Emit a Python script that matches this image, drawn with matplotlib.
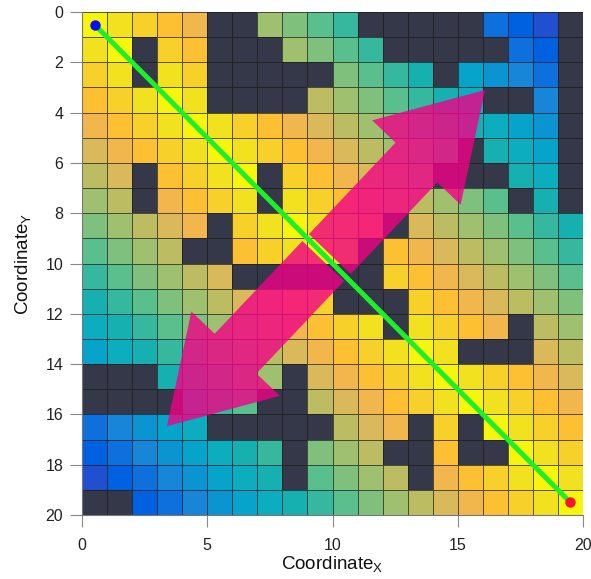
import numpy as np
import matplotlib
matplotlib.use("Agg")
import matplotlib.pyplot as plt
from matplotlib.colors import ListedColormap, BoundaryNorm
from matplotlib.patches import Polygon

plt.rcParams['font.family'] = ['Liberation Sans', 'DejaVu Sans']
plt.rcParams['mathtext.fontset'] = 'custom'
plt.rcParams['mathtext.rm'] = 'Liberation Sans'
plt.rcParams['mathtext.it'] = 'Liberation Sans'

X = -1  # obstacle
grid_values = [
    [0, 1, 2, 3, 4, X, X, 7, 8, 9, 10, X, X, X, X, X, 16, 17, 18, X],
    [1, 0, X, 2, 3, X, X, X, 7, 8, 9, 10, X, X, X, X, X, 16, 17, X],
    [2, 1, X, 1, 2, X, X, X, X, X, 8, 9, 10, 11, X, 13, 14, 15, 16, X],
    [3, 2, 1, 0, 1, X, X, X, X, 6, 7, 8, 9, 10, 11, 12, X, X, 15, X],
    [4, 3, 2, 1, 0, 1, 2, 3, 4, 5, 6, 7, 8, 9, 10, 11, 12, 13, 14, X],
    [5, 4, 3, 2, 1, 0, 1, 2, 3, 4, 5, 6, 7, 8, 9, X, 11, 12, 13, X],
    [6, 5, X, 3, 2, 1, 0, X, 2, 3, 4, 5, 6, 7, X, X, X, 11, 12, X],
    [7, 6, X, 4, 3, 2, 1, X, 1, 2, 3, 4, 5, 6, 7, 8, 9, X, 11, X],
    [8, 7, 6, 5, 4, X, 2, 1, 0, 1, 2, 3, X, 5, 6, 7, 8, 9, 10, 11],
    [9, 8, 7, 6, X, X, 3, 2, 1, 0, 1, X, 3, 4, 5, 6, 7, 8, 9, 10],
    [10, 9, 8, 7, 6, 5, X, X, X, X, X, X, 2, 3, 4, 5, 6, 7, 8, 9],
    [11, 10, 9, 8, 7, 6, 5, 4, 3, 2, X, X, X, 2, 3, 4, 5, 6, 7, 8],
    [12, 11, 10, 9, 8, 7, 6, 5, 4, 3, 2, 1, X, 1, 2, 3, 4, X, 6, 7],
    [13, 12, 11, 10, 9, 8, 7, 6, 5, 4, 3, 2, 1, 0, 1, X, X, X, 5, 6],
    [X, X, X, 11, 10, 9, 8, 7, X, 5, 4, 3, 2, 1, 0, 1, 2, 3, 4, 5],
    [X, X, X, X, 11, 10, 9, X, X, 6, 5, 4, 3, 2, 1, 0, 1, 2, 3, 4],
    [16, 15, 14, 13, 12, X, X, X, X, X, 6, 5, 4, X, 2, X, 0, 1, 2, 3],
    [17, 16, 15, 14, 13, 12, 11, 10, X, 8, 7, 6, X, X, 3, X, X, 0, 1, 2],
    [18, 17, 16, 15, 14, 13, 12, 11, X, 9, 8, 7, 6, X, 4, 3, 2, 1, 0, 1],
    [X, X, 17, 16, 15, 14, 13, 12, 11, 10, 9, 8, 7, 6, 5, 4, 3, 2, 1, 0],
]

start_point = (0.5, 0.5)
end_point = (19.5, 19.5)
arrow_tail = (3.39, 16.47)
arrow_head = (16.09, 3.10)

x_ticks = [0, 5, 10, 15, 20]
y_ticks = [0, 2, 4, 6, 8, 10, 12, 14, 16, 18, 20]

obstacle_color = '#353848'
level_colors = ['#f7f50c', '#f1e11e', '#f7d12a', '#fdc033', '#f1b64c', '#d9b95a',
                '#bcbd63', '#9fc16f', '#7fc17c', '#58bf8d', '#36b89f', '#16b0b1',
                '#0cadbf', '#06a3cb', '#0a95d2', '#1786d8', '#0d70dc', '#0061e0',
                '#2050d0']
cmap = ListedColormap([obstacle_color] + level_colors)
norm = BoundaryNorm(np.arange(-1.5, 19.5, 1.0), cmap.N)

fig = plt.figure(figsize=(5.91, 5.79), dpi=100)
ax = fig.add_axes([82 / 591, 1 - 515 / 579, (583 - 82) / 591, (515 - 12) / 579])

data = np.array(grid_values, dtype=float)
nr, nc = data.shape
ax.pcolormesh(np.arange(nc + 1), np.arange(nr + 1), data, cmap=cmap, norm=norm,
              edgecolors=(0.1, 0.1, 0.1, 0.7), linewidth=0.7, zorder=1)

# double arrow built as two halves split at the path line
A = np.array(arrow_tail)
B = np.array(arrow_head)
u = (B - A) / np.linalg.norm(B - A)
n = np.array([-u[1], u[0]])
total = np.linalg.norm(B - A)
center_t = 9.25
gap = 0.19
shaft_w = 2.3
head_w = 4.87
head_l = 3.98


def half_arrow(tip, direction, base_dist):
    tip = np.asarray(tip)
    back = tip - direction * base_dist
    neck = tip - direction * head_l
    pts = [tip,
           neck + n * head_w / 2, neck + n * shaft_w / 2,
           back + n * shaft_w / 2, back - n * shaft_w / 2,
           neck - n * shaft_w / 2, neck - n * head_w / 2]
    return np.array(pts)


upper = half_arrow(B, u, total - center_t - gap)
lower = half_arrow(A, -u, center_t - gap)
for pts in (upper, lower):
    ax.add_patch(Polygon(pts, closed=True, facecolor='#f20087', edgecolor='none',
                         alpha=0.8, zorder=3))

ax.plot([start_point[0], end_point[0]], [start_point[1], end_point[1]],
        color='#1df02b', lw=3.6, zorder=4, solid_capstyle='butt')
ax.plot(*start_point, 'o', color='#0a0aff', markersize=6.5, zorder=5)
ax.plot(*end_point, 'o', color='#ff1030', markersize=6.5, zorder=5)

ax.set_xlim(0, 20)
ax.set_ylim(20, 0)
ax.set_xticks(x_ticks)
ax.set_yticks(y_ticks)
ax.tick_params(axis='both', direction='out', length=8.5, width=0.8, color='#888888',
               labelsize=11.5, labelcolor='#222222')
ax.tick_params(axis='x', pad=8)
ax.tick_params(axis='y', pad=5)
for s in ['top', 'right']:
    ax.spines[s].set_visible(False)
for s in ['left', 'bottom']:
    ax.spines[s].set_color('#777777')
    ax.spines[s].set_linewidth(0.8)

ax.set_xlabel('Coordinate$_\\mathrm{X}$', fontsize=13.5, color='#111111', labelpad=1)
ax.set_ylabel('Coordinate$_\\mathrm{Y}$', fontsize=13.5, color='#111111', labelpad=9)

fig.savefig('out.png', dpi=100)
